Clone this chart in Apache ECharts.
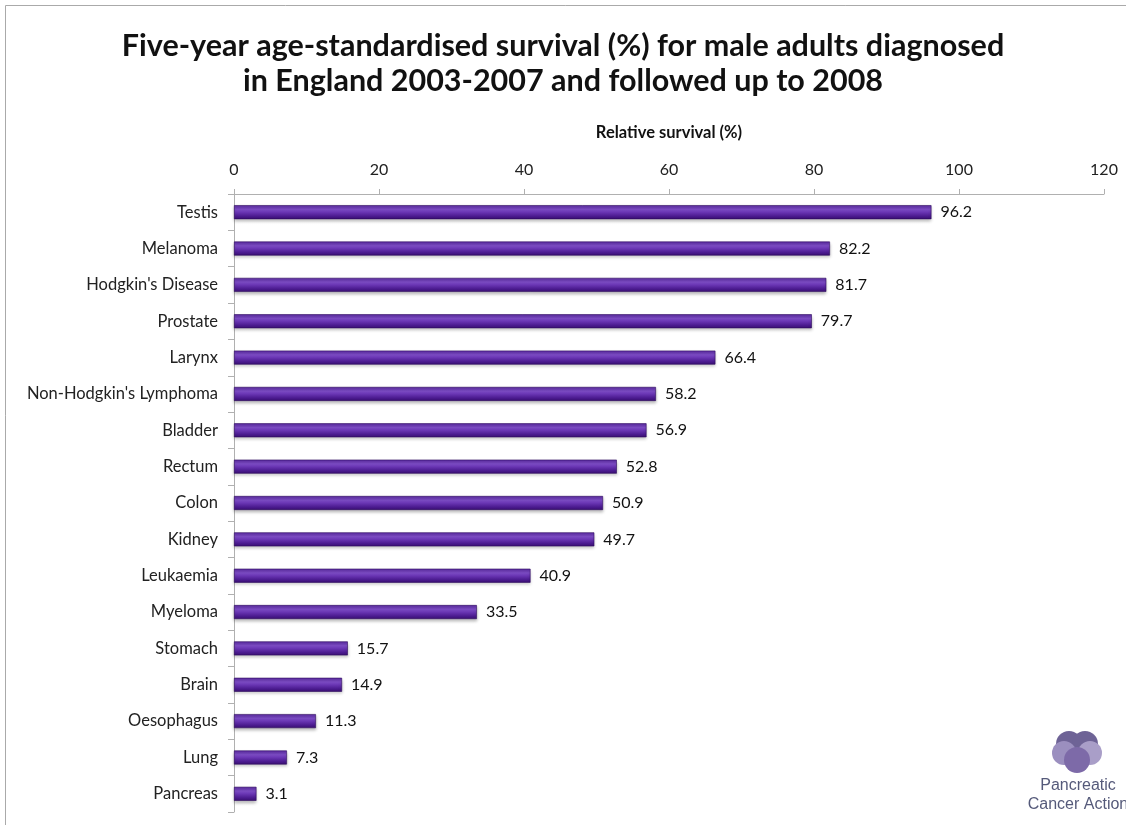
<!DOCTYPE html>
<html>
<head>
<meta charset="utf-8">
<script src="https://cdn.jsdelivr.net/npm/echarts@6/dist/echarts.min.js"></script>
<style>
  html, body { margin: 0; padding: 0; background: #fff; }
  #chart { width: 1126px; height: 825px; }
</style>
</head>
<body>
<div id="chart"></div>
<script>
var categories = ['Testis', 'Melanoma', "Hodgkin's Disease", 'Prostate', 'Larynx',
  "Non-Hodgkin's Lymphoma", 'Bladder', 'Rectum', 'Colon', 'Kidney', 'Leukaemia',
  'Myeloma', 'Stomach', 'Brain', 'Oesophagus', 'Lung', 'Pancreas'];
var survival = [96.2, 82.2, 81.7, 79.7, 66.4, 58.2, 56.9, 52.8, 50.9, 49.7, 40.9,
  33.5, 15.7, 14.9, 11.3, 7.3, 3.1];
var xTicks = [0, 20, 40, 60, 80, 100, 120];

var chart = echarts.init(document.getElementById('chart'));
var font = 'Lato, "Open Sans", sans-serif';
var axisColor = '#b0b0b0';

// bar look: purple with a lighter band in the middle
var barFill = new echarts.graphic.LinearGradient(0, 0, 0, 1, [
  { offset: 0, color: '#5a2aa0' },
  { offset: 0.3, color: '#7c4cc4' },
  { offset: 0.5, color: '#6a36b4' },
  { offset: 0.8, color: '#4a1a8e' },
  { offset: 1, color: '#3a1070' }
]);

var option = {
  backgroundColor: '#fff',
  textStyle: { fontFamily: font },
  title: {
    text: 'Five-year age-standardised survival (%) for male adults diagnosed\nin England 2003-2007 and followed up to 2008',
    left: 'center',
    top: 24,
    textStyle: {
      fontFamily: font,
      fontSize: 30.5,
      fontWeight: 'bold',
      color: '#111',
      lineHeight: 35
    }
  },
  grid: {
    left: 234,
    right: 22,
    top: 194,
    bottom: 13,
    containLabel: false
  },
  xAxis: {
    type: 'value',
    position: 'top',
    min: 0,
    max: 120,
    interval: 20,
    name: 'Relative survival (%)',
    nameLocation: 'middle',
    nameGap: 53,
    nameTextStyle: { fontFamily: font, fontSize: 16.5, fontWeight: 'bold', color: '#111' },
    axisLine: { show: true, lineStyle: { color: axisColor, width: 1 } },
    axisTick: { show: true, length: 5, lineStyle: { color: axisColor } },
    axisLabel: {
      fontFamily: font, fontSize: 16, color: '#222', margin: 16,
      formatter: function (v) { return xTicks.indexOf(v) >= 0 ? String(v) : ''; }
    },
    splitLine: { show: false }
  },
  yAxis: {
    type: 'category',
    inverse: true,
    data: categories,
    axisLine: { show: true, lineStyle: { color: axisColor, width: 1 } },
    axisTick: { show: true, length: 6, lineStyle: { color: axisColor } },
    axisLabel: { fontFamily: font, fontSize: 16.5, color: '#222', margin: 16 }
  },
  series: [{
    type: 'bar',
    data: survival,
    barWidth: 14,
    itemStyle: {
      color: barFill,
      borderColor: '#2e0a5e',
      borderWidth: 0.6,
      shadowColor: 'rgba(0,0,0,0.25)',
      shadowBlur: 3,
      shadowOffsetY: 2
    },
    label: {
      show: true,
      position: 'right',
      distance: 9,
      fontFamily: font,
      fontSize: 16,
      color: '#111'
    }
  }],
  graphic: [
    // slide frame
    { type: 'line', shape: { x1: 5.5, y1: 5.5, x2: 1126, y2: 5.5 }, style: { stroke: '#aaa', lineWidth: 1 } },
    { type: 'line', shape: { x1: 5.5, y1: 5.5, x2: 5.5, y2: 825 }, style: { stroke: '#aaa', lineWidth: 1 } },
    // logo petals
    { type: 'circle', shape: { cx: 1069, cy: 744, r: 13 }, style: { fill: '#6e6396' } },
    { type: 'circle', shape: { cx: 1085, cy: 744, r: 13 }, style: { fill: '#6e6396' } },
    { type: 'circle', shape: { cx: 1064, cy: 753, r: 12 }, style: { fill: '#9b8fbf' } },
    { type: 'circle', shape: { cx: 1090, cy: 753, r: 12 }, style: { fill: '#a99ec8' } },
    { type: 'circle', shape: { cx: 1077, cy: 760, r: 13 }, style: { fill: '#7d6aa8' } },
    {
      type: 'text', x: 1078, y: 776,
      style: {
        text: 'Pancreatic\nCancer Action',
        fontFamily: 'Liberation Sans, Arial, sans-serif',
        fontSize: 16, lineHeight: 19, fill: '#555a7a', align: 'center'
      }
    }
  ]
};
chart.setOption(option);
</script>
</body>
</html>
